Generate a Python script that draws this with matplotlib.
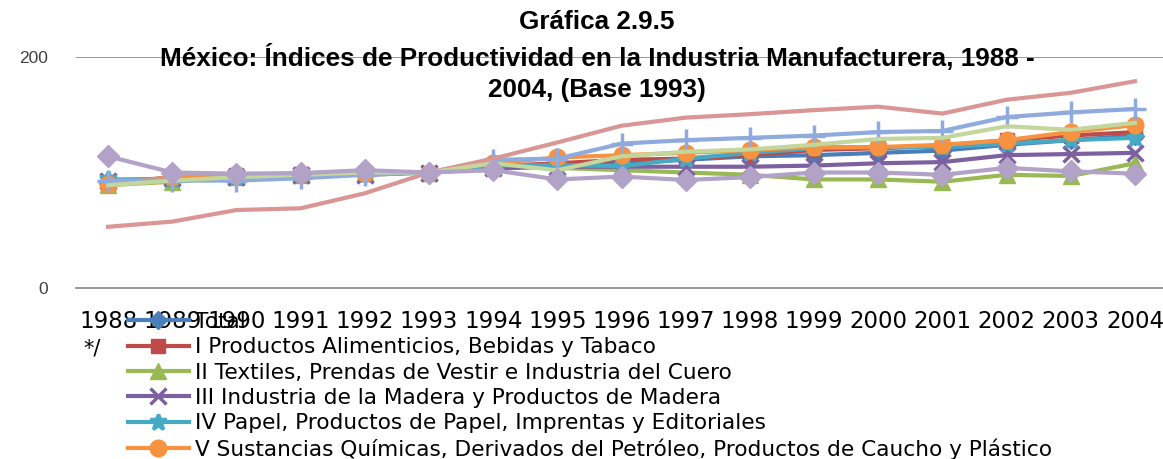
import matplotlib.pyplot as plt

years = [str(y) for y in range(1988, 2005)]

total = [91, 95, 97, 98, 99, 100, 106, 106.5, 108, 111, 114, 115, 117, 119, 124, 128, 132]
alimentos = [90, 96, 98, 99, 100, 100, 105.5, 108, 111, 112, 115, 119.5, 121, 123, 128, 132, 135]
textiles = [89, 92, 96, 98, 100, 100, 108, 104, 102, 100, 98, 94, 94, 92, 98, 97, 108]
madera = [93, 95, 96, 98, 98, 100, 103.5, 105, 105, 105, 105, 106, 108, 109, 115, 116, 117]
papel = [94, 94, 96, 98, 99, 100, 106, 106.5, 105.5, 112, 117, 121, 122, 122, 125, 128, 130]
quimicos = [90, 96, 98, 99, 100, 100, 108, 113, 115, 117, 119.5, 122, 122, 124, 128, 135, 141]
minerales = [93, 93, 93, 95, 98, 100, 111, 112, 125, 128, 130, 132, 135, 136, 148, 152, 155]
metalicas = [53, 57.5, 67.5, 69, 82, 100, 112, 126, 140.5, 147.5, 150.5, 154, 157, 151, 163, 169, 179]
maquinaria = [89, 93, 96, 98, 100, 100, 108, 102, 114, 118, 120, 124, 129, 130, 140, 137, 143]
otras = [114, 100, 99, 99.5, 102, 100, 102, 94, 96.5, 93.5, 96, 100, 100, 98, 104, 101, 99]

labels = [
    'Total',
    'I Productos Alimenticios, Bebidas y Tabaco',
    'II Textiles, Prendas de Vestir e Industria del Cuero',
    'III Industria de la Madera y Productos de Madera',
    'IV Papel, Productos de Papel, Imprentas y Editoriales',
    'V Sustancias Químicas, Derivados del Petróleo, Productos de Caucho y Plástico',
    'VI Productos de Minerales no Metálicos',
    'VII Industrias Metálicas Básicas',
    'VIII Productos Metálicos, Maquinaria y Equipo',
    'IX Otras Industrias Manufactureras',
]
series = [total, alimentos, textiles, madera, papel, quimicos,
          minerales, metalicas, maquinaria, otras]
colors = ['#4A7EBB', '#BE4B48', '#98B954', '#7D60A0', '#46AAC5', '#F69240',
          '#8FAADC', '#D99694', '#C3D69B', '#B3A2C7']
markers = ['D', 's', '^', 'x', '*', 'o', '+', None, None, 'D']
msizes = [9, 10, 11, 11, 12, 12, 16, 0, 0, 11]

title_font = ['Liberation Sans', 'DejaVu Sans']

fig = plt.figure(figsize=(11.63, 4.59), dpi=100)
ax = fig.add_axes([76 / 1163, 1 - 288 / 459, (1167 - 76) / 1163, (288 - 57) / 459])

x = list(range(len(years)))
handles = []
for vals, lab, c, m, ms in zip(series, labels, colors, markers, msizes):
    h, = ax.plot(x, vals, color=c, lw=3, marker=m, ms=ms,
                 mew=2.5 if m in ('x', '+', '*') else 1,
                 mfc=c, mec=c, label=lab, solid_joinstyle='round')
    handles.append(h)

ax.set_xlim(-0.5, len(years) - 0.5)
ax.set_ylim(0, 200)
ax.set_yticks([0, 200])
ax.set_yticklabels(['0', '200'], family=title_font, fontsize=12.5, color='#404040')
ax.set_xticks(x)
ax.set_xticklabels(years, fontsize=16.5)
ax.tick_params(axis='x', length=0, pad=16)
ax.tick_params(axis='y', length=0, pad=20)
ax.axhline(200, color='#868686', lw=1.2, zorder=0)
for s in ['top', 'right', 'left']:
    ax.spines[s].set_visible(False)
ax.spines['bottom'].set_color('#868686')
ax.spines['bottom'].set_linewidth(1.2)

title_lines = ['Gráfica 2.9.5',
               'México: Índices de Productividad en la Industria Manufacturera, 1988 -',
               '2004, (Base 1993)']
for ypix, line in zip([22, 57, 90], title_lines):
    fig.text(597 / 1163, 1 - ypix / 459, line, ha='center', va='center',
             family=title_font, fontsize=18.8, fontweight='bold')

fig.text(92 / 1163, 1 - 349 / 459, '*/', ha='center', va='center', fontsize=15)

# only the first six entries fit in the visible area
fig.legend(handles[:6], labels[:6], loc='upper left',
           bbox_to_anchor=(128 / 1163, 1 - 312 / 459), frameon=False,
           fontsize=15.6, borderpad=0, borderaxespad=0, labelspacing=0.245,
           handlelength=2.8, handletextpad=0.3)

fig.savefig('out.png', dpi=100)
